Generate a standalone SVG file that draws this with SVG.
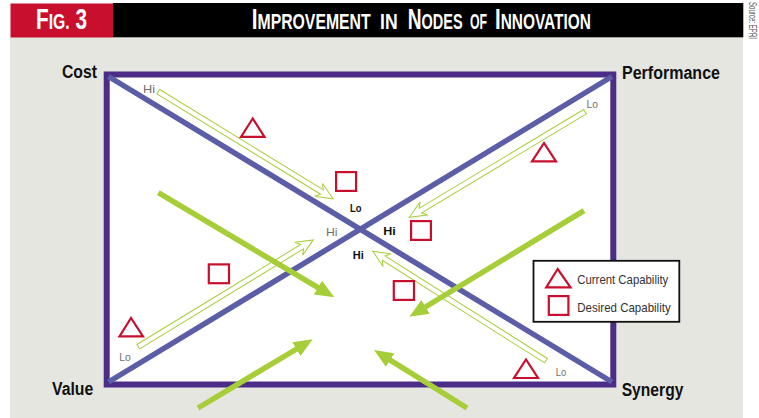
<svg xmlns="http://www.w3.org/2000/svg" width="759" height="418" viewBox="0 0 759 418">
<style>
.hdr{font-family:"Liberation Sans",Arial,sans-serif;font-weight:bold;fill:#fff}
.corner{font-family:"Liberation Sans",Arial,sans-serif;font-weight:bold;font-size:18px;fill:#111}
.lg{font-family:"Liberation Sans",Arial,sans-serif;font-size:11.5px;fill:#707070}
.lb{font-family:"Liberation Sans",Arial,sans-serif;font-size:11.5px;font-weight:bold;fill:#111}
.leg{font-family:"Liberation Sans",Arial,sans-serif;font-size:13px;fill:#333}
.tri{fill:none;stroke:#c8102e;stroke-width:2.2;stroke-linejoin:miter}
.sq{fill:none;stroke:#c8102e;stroke-width:2.2}
.diag{stroke:#5b5ea6;stroke-width:5.5;stroke-linecap:butt}
.hol{fill:#fff;stroke:#a6ce39;stroke-width:1}
.sol{stroke:#a6ce39;stroke-width:5.5;fill:none}
</style>
<defs>
<marker id="ah" markerUnits="userSpaceOnUse" viewBox="0 0 19 16" markerWidth="19" markerHeight="16" refX="7" refY="8" orient="auto">
<path d="M0,0 L19,8 L0,16 Z" fill="#a6ce39"/>
</marker>
<path id="ha" d="M0,-2.6 H192 L188,-7.5 L205,0 L188,7.5 L192,2.6 H0 Z"/>
</defs>

<rect x="0" y="0" width="759" height="418" fill="#fff"/>
<rect x="10" y="37" width="733" height="381" fill="#e6e6e1"/>

<g id="header">
<rect x="10.5" y="3.5" width="102.5" height="34" fill="#c8102e"/>
<rect x="113" y="3" width="630.3" height="34.3" fill="#000"/>
<text class="hdr" transform="translate(36,29.3) scale(0.716,1)"><tspan font-size="29">F</tspan><tspan font-size="22">IG.</tspan><tspan font-size="29"> 3</tspan></text>
<text class="hdr" transform="translate(251.7,29.3) scale(0.718,1)"><tspan font-size="29">I</tspan><tspan font-size="22">MPROVEMENT</tspan></text>
<text class="hdr" transform="translate(380,29.3) scale(0.8,1)" font-size="22">IN</text>
<text class="hdr" transform="translate(407.7,29.3) scale(0.66,1)"><tspan font-size="29">N</tspan><tspan font-size="22">ODES</tspan></text>
<text class="hdr" transform="translate(470,29.3) scale(0.56,1)" font-size="22">OF</text>
<text class="hdr" transform="translate(495,29.3) scale(0.702,1)"><tspan font-size="29">I</tspan><tspan font-size="22">NNOVATION</tspan></text>
<text transform="translate(748.5,2) rotate(90)" font-family="Liberation Sans, Arial, sans-serif" font-size="10" fill="#555" textLength="37" lengthAdjust="spacingAndGlyphs">Source: EPRI</text>
</g>

<g id="frame">
<rect x="106.7" y="74.5" width="506.6" height="310" fill="#fff" stroke="#4b2d88" stroke-width="6"/>
<line class="diag" x1="108.5" y1="76.5" x2="612" y2="382"/>
<line class="diag" x1="108.5" y1="382" x2="612" y2="76.5"/>
</g>

<g id="corner-labels">
<text id="cost" class="corner" x="62" y="78.3" textLength="35" lengthAdjust="spacingAndGlyphs">Cost</text>
<text id="performance" class="corner" x="622" y="78.5" textLength="98" lengthAdjust="spacingAndGlyphs">Performance</text>
<text id="value" class="corner" x="52" y="395" textLength="41.3" lengthAdjust="spacingAndGlyphs">Value</text>
<text id="synergy" class="corner" x="621.7" y="395.5" textLength="61.7" lengthAdjust="spacingAndGlyphs">Synergy</text>
</g>

<g id="connectors">
<use href="#ha" class="hol" transform="translate(158.3,91.7) rotate(31.5)"/>
<use href="#ha" class="hol" transform="translate(585,111.7) rotate(149)"/>
<use href="#ha" class="hol" transform="translate(138.3,346.7) rotate(-31.4)"/>
<use href="#ha" class="hol" transform="translate(546,360.7) rotate(-147.7)"/>
<line class="sol" x1="158.3" y1="192.7" x2="324" y2="291.2" marker-end="url(#ah)"/>
<line class="sol" x1="584" y1="210.7" x2="419.6" y2="310.5" marker-end="url(#ah)"/>
<line class="sol" x1="198" y1="408" x2="302.4" y2="345.5" marker-end="url(#ah)"/>
<line class="sol" x1="467" y1="408" x2="384.2" y2="356.3" marker-end="url(#ah)"/>
</g>

<g id="hilo-labels">
<text class="lg" x="143" y="93.3" textLength="12" lengthAdjust="spacingAndGlyphs">Hi</text>
<text class="lg" x="586.5" y="108.3" textLength="11.5" lengthAdjust="spacingAndGlyphs">Lo</text>
<text class="lb" x="350" y="211.7" textLength="11.5" lengthAdjust="spacingAndGlyphs">Lo</text>
<text class="lg" x="326" y="235.7" textLength="11.5" lengthAdjust="spacingAndGlyphs">Hi</text>
<text class="lb" x="383.3" y="235" textLength="12.5" lengthAdjust="spacingAndGlyphs">Hi</text>
<text class="lb" x="352.7" y="259" textLength="11" lengthAdjust="spacingAndGlyphs">Hi</text>
<text class="lg" x="119.3" y="360.7" textLength="11.5" lengthAdjust="spacingAndGlyphs">Lo</text>
<text class="lg" x="555.7" y="376" textLength="10.5" lengthAdjust="spacingAndGlyphs">Lo</text>
</g>

<g id="current-capability">
<polygon class="tri" points="252.7,118.5 241,136.8 264.5,136.8"/>
<polygon class="tri" points="544,143 532,161.3 556,161.3"/>
<polygon class="tri" points="131,318 119.5,336.3 143,336.3"/>
<polygon class="tri" points="526,359.5 514,378 538,378"/>
</g>

<g id="desired-capability">
<rect class="sq" x="336.1" y="172.1" width="20" height="18.8"/>
<rect class="sq" x="411.1" y="221.1" width="19.8" height="18.8"/>
<rect class="sq" x="208.8" y="264.4" width="20.2" height="18.8"/>
<rect class="sq" x="393.8" y="281.1" width="20.2" height="18.8"/>
</g>

<g id="legend">
<rect x="533.5" y="260.8" width="145.8" height="61" fill="#fff" stroke="#111" stroke-width="1.8"/>
<polygon class="tri" points="557.7,269 546.2,287.3 570.5,287.3"/>
<rect class="sq" x="548.8" y="296.1" width="19.6" height="18.8"/>
<text class="leg" x="577.3" y="284" textLength="91" lengthAdjust="spacingAndGlyphs">Current Capability</text>
<text class="leg" x="577.3" y="311.7" textLength="93.4" lengthAdjust="spacingAndGlyphs">Desired Capability</text>
</g>
</svg>
